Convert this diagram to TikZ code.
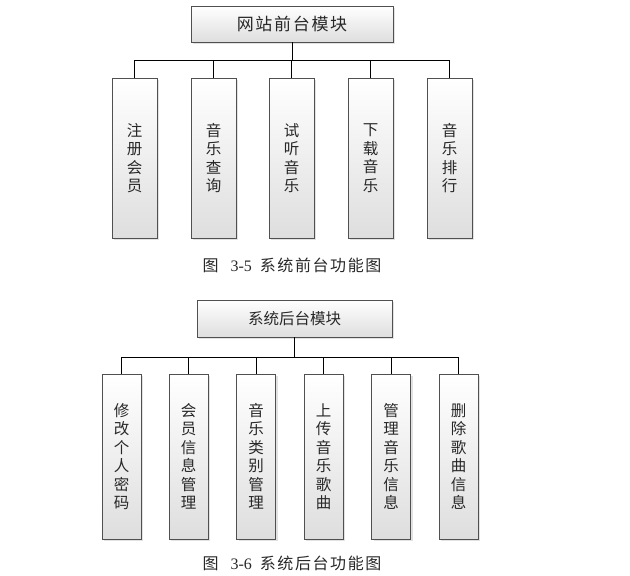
\documentclass[tikz,border=0pt]{standalone}
\usepackage{fontspec}
\setmainfont{Liberation Serif}
\newfontfamily\cjk{Noto Sans CJK SC}
\newfontfamily\cjkwide[LetterSpace=10]{Noto Sans CJK SC}
\usetikzlibrary{positioning,shadows,calc}
\definecolor{boxline}{RGB}{80,80,80}
\definecolor{boxshade}{RGB}{222,222,222}
\definecolor{inktext}{RGB}{40,40,40}

\begin{document}
\begin{tikzpicture}[
  x=1pt, y=-1pt,
  modbox/.style={
    draw=boxline, line width=0.8pt, top color=white, bottom color=boxshade,
    drop shadow={shadow xshift=2pt, shadow yshift=-2pt, fill=gray!45},
    text=inktext, font=\cjk\fontsize{15.5}{18.5}\selectfont, inner sep=0pt, align=center
  },
  subbox/.style={modbox, minimum width=#1, minimum height=160},
  link/.style={black, line width=0.8pt},
  caption/.style={text=inktext, font=\fontsize{16}{18}\selectfont}
]
  \useasboundingbox (0,0) rectangle (630,576);

  % front end
  \node[modbox, minimum width=202, minimum height=36,
        font=\cjkwide\fontsize{17}{18}\selectfont] (front) at (292,24) {网站前台模块};
  \coordinate (fbus) at ($(front.south)+(0,18)$);

  \node[subbox=45] (f1) at (134.5,158) {注\\册\\会\\员};
  \node[subbox=45] (f2) at (213.5,158) {音\\乐\\查\\询};
  \node[subbox=45] (f3) at (291.5,158) {试\\听\\音\\乐};
  \node[subbox=45] (f4) at (370.5,158) {下\\载\\音\\乐};
  \node[subbox=45] (f5) at (449.5,158) {音\\乐\\排\\行};

  \draw[link] (front.south) -- (fbus);
  \draw[link] (fbus) -| (f1.north);
  \draw[link] (fbus) -| (f2.north);
  \draw[link] (fbus) -| (f3.north);
  \draw[link] (fbus) -| (f4.north);
  \draw[link] (fbus) -| (f5.north);

  \node[caption] (cap1) at (292,265) {{\cjk 图}\ \ \ 3-5\ \ {\cjkwide 系统前台功能图}};

  % back end
  \node[modbox, minimum width=195, minimum height=37,
        font=\cjk\fontsize{15.5}{18}\selectfont] (back) at (294.5,318.5) {系统后台模块};
  \coordinate (bbus) at ($(back.south)+(0,20)$);

  \node[subbox=39, minimum height=165] (b1) at (121.5,456.5) {修\\改\\个\\人\\密\\码};
  \node[subbox=39, minimum height=165] (b2) at (188.5,456.5) {会\\员\\信\\息\\管\\理};
  \node[subbox=39, minimum height=165] (b3) at (256,456.5) {音\\乐\\类\\别\\管\\理};
  \node[subbox=39, minimum height=165] (b4) at (323.5,456.5) {上\\传\\音\\乐\\歌\\曲};
  \node[subbox=39, minimum height=165] (b5) at (391,456.5) {管\\理\\音\\乐\\信\\息};
  \node[subbox=39, minimum height=165] (b6) at (458.5,456.5) {删\\除\\歌\\曲\\信\\息};

  \draw[link] (back.south) -- (bbus);
  \draw[link] (bbus) -| (b1.north);
  \draw[link] (bbus) -| (b2.north);
  \draw[link] (bbus) -| (b3.north);
  \draw[link] (bbus) -| (b4.north);
  \draw[link] (bbus) -| (b5.north);
  \draw[link] (bbus) -| (b6.north);

  \node[caption] (cap2) at (292,563) {{\cjk 图}\ \ \ 3-6\ \ {\cjkwide 系统后台功能图}};
\end{tikzpicture}
\end{document}
